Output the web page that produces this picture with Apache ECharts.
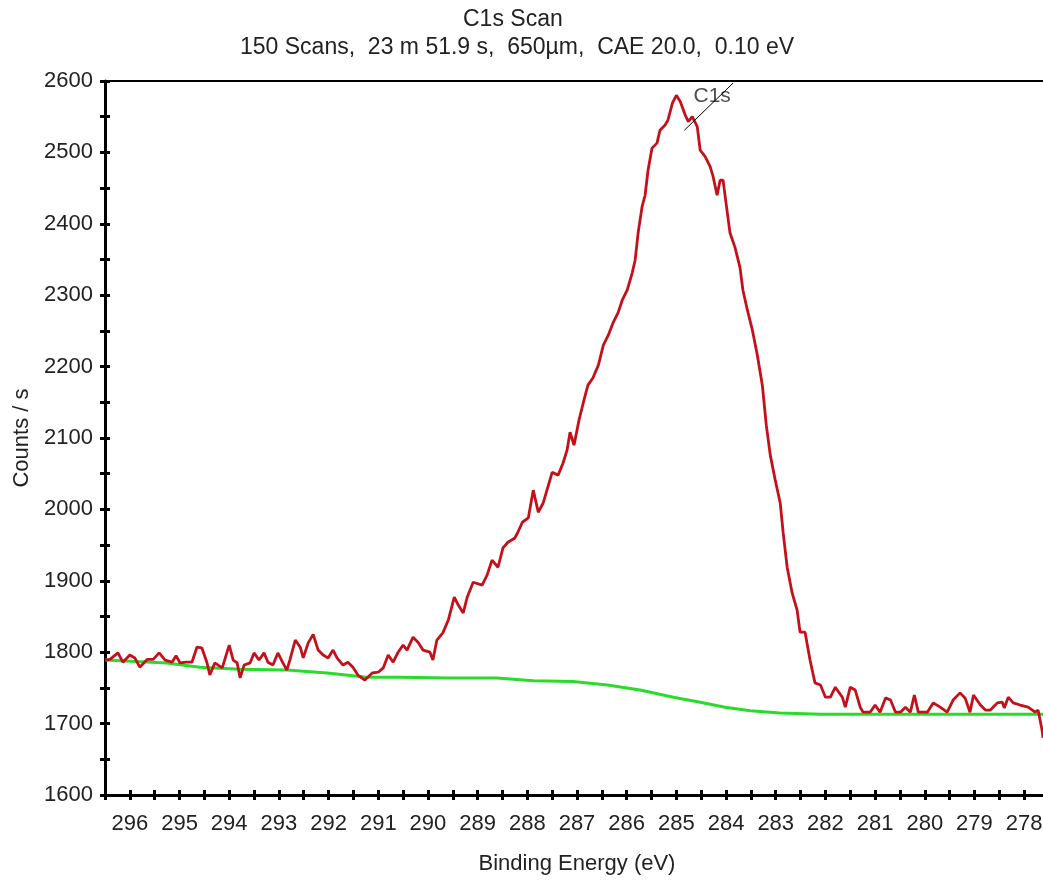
<!DOCTYPE html>
<html>
<head>
<meta charset="utf-8">
<script src="https://cdn.jsdelivr.net/npm/echarts@6/dist/echarts.min.js"></script>
<style>
html,body{margin:0;padding:0;background:#fff;}
#chart{width:1043px;height:881px;}
</style>
</head>
<body>
<div id="chart"></div>
<script>
// Measured spectrum (Binding energy in eV, counts per second)
const energy = [296.50,296.40,296.24,296.14,296.00,295.90,295.80,295.65,295.53,295.41,295.29,295.15,295.07,294.99,294.87,294.75,294.65,294.55,294.45,294.39,294.29,294.14,294.00,293.92,293.84,293.78,293.70,293.58,293.50,293.40,293.30,293.22,293.12,293.02,292.92,292.84,292.78,292.67,292.57,292.51,292.41,292.31,292.21,292.11,292.01,291.91,291.83,291.71,291.61,291.51,291.41,291.27,291.12,291.00,290.90,290.80,290.70,290.60,290.50,290.42,290.30,290.20,290.10,289.96,289.90,289.82,289.70,289.59,289.47,289.39,289.29,289.21,289.09,288.91,288.81,288.71,288.59,288.49,288.39,288.25,288.19,288.10,287.98,287.88,287.78,287.68,287.50,287.38,287.28,287.20,287.14,287.06,286.96,286.86,286.78,286.68,286.57,286.47,286.37,286.27,286.17,286.09,285.99,285.89,285.83,285.77,285.69,285.63,285.57,285.49,285.39,285.33,285.23,285.17,285.08,285.00,284.92,284.82,284.76,284.68,284.58,284.52,284.42,284.32,284.26,284.18,284.12,284.06,284.00,283.92,283.82,283.72,283.66,283.57,283.47,283.37,283.27,283.19,283.11,283.01,282.91,282.85,282.77,282.67,282.57,282.51,282.41,282.31,282.21,282.10,282.00,281.90,281.80,281.66,281.60,281.50,281.40,281.30,281.24,281.10,281.00,280.90,280.79,280.69,280.59,280.49,280.39,280.29,280.21,280.13,279.95,279.83,279.69,279.55,279.43,279.29,279.19,279.09,279.02,278.88,278.78,278.68,278.54,278.44,278.40,278.32,278.22,278.08,277.92,277.78,277.72,277.64,277.62];
const counts = [1789,1790,1799,1786,1796,1792,1779,1790,1790,1799,1789,1786,1795,1785,1786,1786,1807,1806,1786,1768,1785,1778,1810,1789,1785,1764,1782,1785,1799,1789,1799,1786,1782,1799,1785,1775,1789,1817,1807,1792,1813,1825,1803,1796,1792,1803,1792,1782,1786,1779,1768,1761,1771,1772,1778,1796,1786,1800,1810,1803,1821,1814,1803,1800,1789,1817,1827,1845,1877,1866,1855,1877,1898,1894,1908,1929,1919,1946,1954,1960,1968,1982,1988,2027,1996,2009,2052,2048,2065,2083,2108,2090,2125,2153,2174,2184,2202,2230,2244,2262,2276,2293,2307,2331,2349,2387,2424,2440,2475,2506,2513,2531,2538,2545,2569,2580,2571,2552,2543,2550,2536,2503,2494,2480,2466,2440,2461,2461,2429,2387,2367,2339,2307,2279,2251,2216,2174,2118,2076,2041,2009,1967,1919,1883,1859,1828,1828,1789,1757,1754,1737,1737,1751,1737,1723,1751,1747,1723,1716,1716,1726,1716,1736,1733,1716,1716,1723,1716,1740,1716,1716,1729,1723,1716,1733,1743,1736,1716,1740,1726,1719,1719,1729,1730,1722,1737,1729,1726,1723,1716,1719,1691,1680];

// Background (baseline) curve
const bgEnergy = [296.50,295.25,294.59,293.78,292.84,292.03,291.23,290.56,289.55,288.61,287.88,287.08,286.39,285.73,285.06,284.52,284.02,283.51,282.91,282.10,277.62];
const bgCounts = [1789,1785,1779,1776,1775,1771,1765,1765,1764,1764,1760,1759,1754,1747,1737,1730,1723,1718,1715,1713,1713];

// Peak annotation
const peakName = 'C1s';
const peakLabelPos = [284.28, 2579];
const peakLeader = [[284.84, 2531], [283.86, 2597]];

const titleText = 'C1s Scan';
const subText = '150 Scans,  23 m 51.9 s,  650µm,  CAE 20.0,  0.10 eV';
const xName = 'Binding Energy (eV)';
const yName = 'Counts / s';
const xRange = [277.5, 296.5];
const yRange = [1600, 2600];

const FONT = 'Liberation Sans, Arial, sans-serif';
const TXT = '#222';
const FS = 22;

const spectrum = energy.map((e, i) => [e, counts[i]]);
const background = bgEnergy.map((e, i) => [e, bgCounts[i]]);

const chart = echarts.init(document.getElementById('chart'), null, {renderer: 'canvas'});

const xBase = {
  type: 'value', gridIndex: 0, inverse: true,
  min: xRange[0], max: xRange[1], interval: 0.5,
  splitLine: {show: false}
};
const yBase = {
  type: 'value', gridIndex: 0,
  min: yRange[0], max: yRange[1], interval: 50,
  splitLine: {show: false}
};

chart.setOption({
  animation: false,
  backgroundColor: '#fff',
  title: [
    {text: titleText, left: 458, top: 3,
     textStyle: {fontFamily: FONT, fontSize: 23, fontWeight: 'normal', color: TXT}},
    {text: subText, left: 235, top: 31,
     textStyle: {fontFamily: FONT, fontSize: 23, fontWeight: 'normal', color: TXT}}
  ],
  grid: {left: 105, top: 81, width: 944, height: 714, containLabel: false, outerBoundsMode: 'none',
         show: true, borderColor: '#000', borderWidth: 2, backgroundColor: 'transparent'},
  xAxis: [
    Object.assign({}, xBase, {
      position: 'bottom',
      name: xName, nameLocation: 'middle', nameGap: 58,
      nameTextStyle: {fontFamily: FONT, fontSize: FS, color: TXT},
      axisLine: {show: true, onZero: false, lineStyle: {color: '#000', width: 3}},
      axisTick: {show: true, inside: false, length: 5, lineStyle: {color: '#000', width: 3}},
      axisLabel: {show: true, margin: 18, fontFamily: FONT, fontSize: FS, color: TXT,
        formatter: v => (Math.abs(v - Math.round(v)) < 1e-6 ? String(Math.round(v)) : '')}
    }),
    Object.assign({}, xBase, {
      position: 'bottom',
      axisLine: {show: false, onZero: false},
      axisTick: {show: true, inside: true, length: 5, lineStyle: {color: '#000', width: 3}},
      axisLabel: {show: false}
    })
  ],
  yAxis: [
    Object.assign({}, yBase, {
      position: 'left',
      name: yName, nameLocation: 'middle', nameGap: 72, nameRotate: 90,
      nameTextStyle: {fontFamily: FONT, fontSize: FS, color: TXT},
      axisLine: {show: true, onZero: false, lineStyle: {color: '#000', width: 3}},
      axisTick: {show: true, inside: false, length: 5, lineStyle: {color: '#000', width: 3}},
      axisLabel: {show: true, margin: 12, fontFamily: FONT, fontSize: FS, color: TXT,
        formatter: v => (v % 100 === 0 ? String(v) : '')}
    }),
    Object.assign({}, yBase, {
      position: 'left',
      axisLine: {show: false, onZero: false},
      axisTick: {show: true, inside: true, length: 5, lineStyle: {color: '#000', width: 3}},
      axisLabel: {show: false}
    })
  ],
  series: [
    {
      type: 'line', name: 'background', xAxisIndex: 0, yAxisIndex: 0,
      data: background, showSymbol: false, symbol: 'none', clip: true,
      lineStyle: {color: '#2adc2a', width: 3}
    },
    {
      type: 'line', name: 'spectrum', xAxisIndex: 0, yAxisIndex: 0,
      data: spectrum, showSymbol: false, symbol: 'none', clip: true,
      lineStyle: {color: '#c4101a', width: 2.8}
    },
    {
      type: 'scatter', name: 'label', xAxisIndex: 0, yAxisIndex: 0,
      data: [peakLabelPos], symbolSize: 1, itemStyle: {color: 'rgba(0,0,0,0)'},
      label: {show: true, position: 'inside', formatter: peakName,
        fontFamily: FONT, fontSize: 21, color: TXT},
      markLine: {
        silent: true, symbol: ['none', 'none'], animation: false,
        lineStyle: {color: '#000', width: 1, type: 'solid'},
        label: {show: false},
        data: [[{coord: peakLeader[0]}, {coord: peakLeader[1]}]]
      }
    }
  ]
});
</script>
</body>
</html>
